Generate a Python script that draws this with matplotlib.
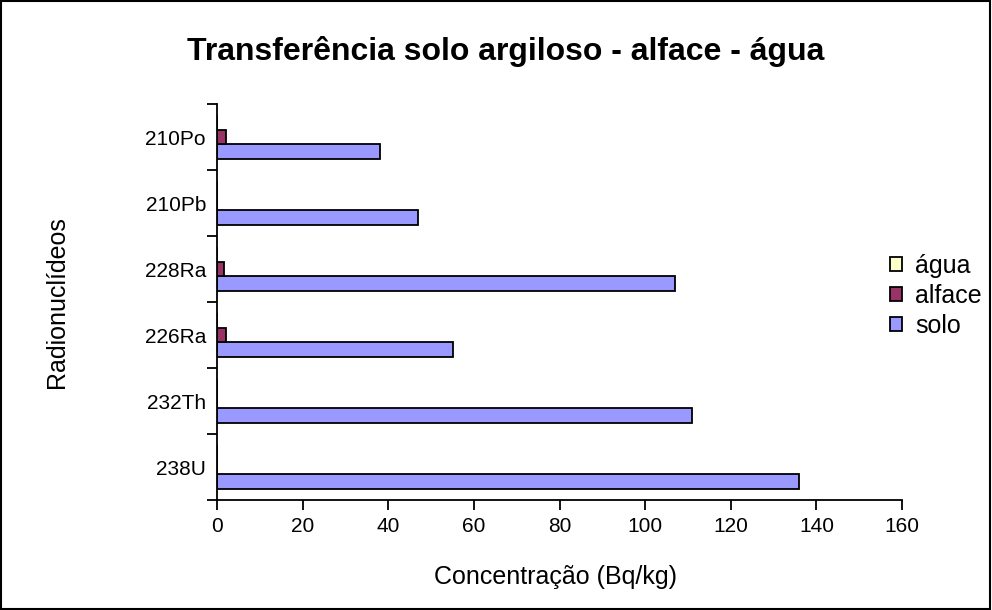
import numpy as np
import matplotlib
matplotlib.use("Agg")
import matplotlib.pyplot as plt
from matplotlib.patches import Rectangle

plt.rcParams['font.family'] = ['Liberation Sans', 'DejaVu Sans']

# Dados
radionuclideos = ["238U", "232Th", "226Ra", "228Ra", "210Pb", "210Po"]
solo = [136, 111, 55, 107, 47, 38]
alface = [0, 0, 2.0, 1.6, 0, 2.0]
agua = [0, 0, 0, 0, 0, 0]

series = ["solo", "alface", "água"]
cores = ["#9999FF", "#993366", "#FFFFCC"]

fig = plt.figure(figsize=(9.92, 6.10), dpi=100)
ax = fig.add_axes([0.2188, 0.1803, 0.6905, 0.6492])

y = np.arange(len(radionuclideos))
h = 0.22
valores = [solo, alface, agua]
for i, (nome, v, c) in enumerate(zip(series, valores, cores)):
    ax.barh(y + (i - 1) * h, v, height=h, color=c, edgecolor="black",
            linewidth=1.3, label=nome)

ax.set_xlim(0, 160)
ax.set_ylim(-0.5, len(radionuclideos) - 0.5)
ax.set_xticks(np.arange(0, 161, 20))
ax.set_yticks(y)
ax.set_yticklabels(radionuclideos)
ax.set_yticks(np.arange(-0.5, len(radionuclideos), 1), minor=True)
ax.tick_params(axis="y", which="major", length=0, pad=8, labelsize=15)
ax.tick_params(axis="y", which="minor", length=7, width=1.3, direction="out")
ax.tick_params(axis="x", length=7, width=1.3, direction="out", labelsize=15, pad=5)
for s in ["top", "right"]:
    ax.spines[s].set_visible(False)
for s in ["left", "bottom"]:
    ax.spines[s].set_linewidth(1.3)

fig.text(0.5595, 1 - 577 / 610, "Concentração (Bq/kg)", fontsize=18,
         ha="center", va="center")
fig.text(57 / 992, 0.505, "Radionuclídeos", fontsize=18, rotation=90,
         ha="center", va="center")
fig.text(0.510, 0.915, "Transferência solo argiloso - alface - água",
         fontsize=23, fontweight="bold", ha="center", va="center")

h_, l_ = ax.get_legend_handles_labels()
fig.legend(h_[::-1], l_[::-1], loc="center left", bbox_to_anchor=(0.897, 0.515),
           frameon=False, fontsize=18, handlelength=0.5, handleheight=0.5,
           handletextpad=0.5, labelspacing=0.25, borderaxespad=0, borderpad=0)

fig.add_artist(Rectangle((0.001, 0.002), 0.997, 0.996, transform=fig.transFigure,
                         fill=False, edgecolor="black", linewidth=1.5))

fig.savefig("out.png", dpi=100)
